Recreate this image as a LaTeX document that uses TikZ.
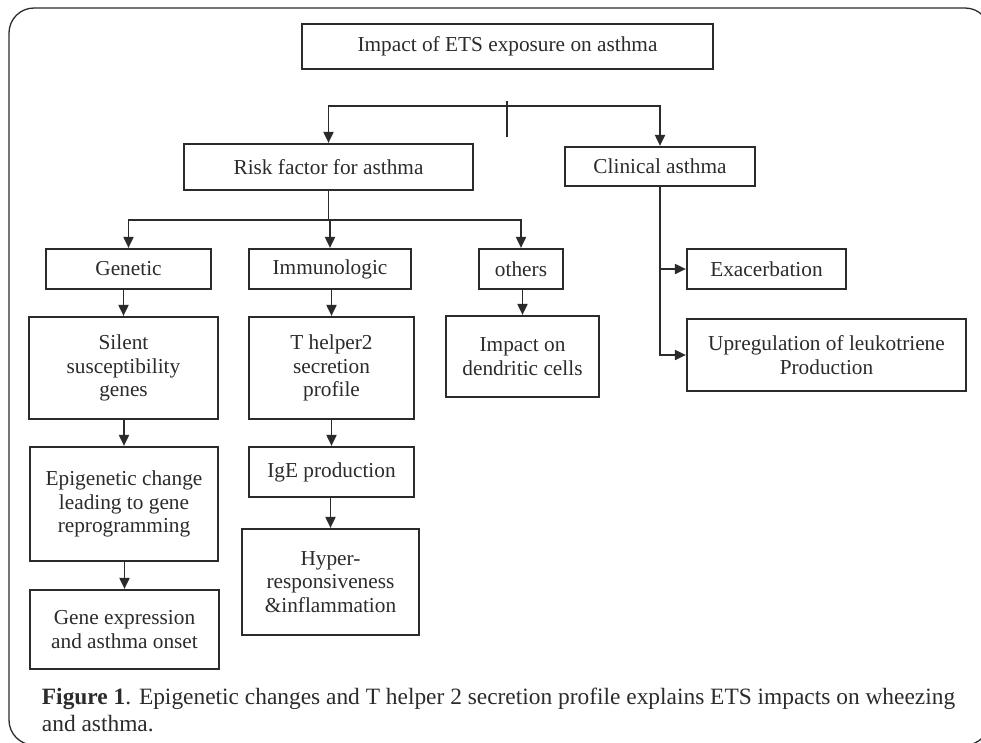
\documentclass[tikz,border=0pt]{standalone}
\usepackage{fontspec}
\setmainfont{Liberation Serif}
\usepackage{tikz}
\usetikzlibrary{arrows.meta}

\definecolor{inkgray}{HTML}{2B2B2B}

\begin{document}
\begin{tikzpicture}[x=1pt, y=-1pt, >={Triangle[length=11pt,width=10pt]}, line width=1.9pt, color=inkgray,
  font=\fontsize{21.3}{23.5}\selectfont, align=center,
  box/.style 2 args={draw, line width=2.2pt, inner sep=0pt, minimum width=#1, minimum height=#2},
  frame/.style={line width=1.3pt, rounded corners=25pt}]
  \useasboundingbox (0,0) rectangle (981,742);
  \clip (0,0) rectangle (981,742);
  \draw[frame] (9,8) rectangle (990,745);

  \node[box={411}{45}]  (impact) at (507.5,46.5) {Impact of ETS exposure on asthma};
  \node[box={289}{46}]  (risk)   at (328.5,167)  {Risk factor for asthma};
  \node[box={190}{39}]  (clin)   at (660,166.5)  {Clinical asthma};

  \node[box={165}{40}]  (gen)    at (128.5,269)  {Genetic};
  \node[box={162}{40}]  (immu)   at (330,269)    {Immunologic};
  \node[box={84}{40}]   (oth)    at (521,269)    {others};
  \node[box={159}{40}]  (exa)    at (766.5,269)  {Exacerbation};

  \node[box={189}{102}] (sil)    at (123.5,368)  {Silent\\susceptibility\\genes};
  \node[box={165}{102}] (thel)   at (331.5,368)  {T helper2\\secretion\\profile};
  \node[box={153}{81}]  (dend)   at (522.5,356.5) {Impact on\\dendritic cells};
  \node[box={279}{72}]  (upr)    at (826.5,355)  {Upregulation of leukotriene\\Production};

  \node[box={188}{114}] (epi)    at (124,504)    {Epigenetic change\\leading to gene\\reprogramming};
  \node[box={165}{50}]  (ige)    at (331.5,472)  {IgE production};
  \node[box={189}{79}]  (gene)   at (124.5,629.5) {Gene expression\\and asthma onset};
  \node[box={177}{106}] (hyp)    at (330.5,582)  {Hyper-\\responsiveness\\\&inflammation};

  \node[anchor=north west, inner sep=0pt, align=left, font=\fontsize{23.4}{27}\selectfont] (cap) at (41,687)
    {\textbf{Figure 1}. Epigenetic changes and T helper 2 secretion profile explains ETS impacts on wheezing\\and asthma.};

  % top split
  \coordinate (tickt) at (507,101);
  \coordinate (tickb) at (507,137);
  \coordinate (split) at (507,106);
  \draw (tickt) -- (tickb);
  \draw[->] (split) -| (risk);
  \draw[->] (split) -| (clin);

  % risk factors
  \coordinate (rsplit) at (risk.south |- 0,220);
  \draw (risk.south) -- (rsplit);
  \draw[->] (rsplit) -| (gen);
  \draw[->] (rsplit) -| (immu);
  \draw[->] (rsplit) -| (oth);

  \draw[->] (gen.south -| sil.north) -- (sil.north);
  \draw[->] (sil.south -| epi.north) -- (epi.north);
  \draw[->] (epi.south -| gene.north) -- (gene.north);
  \draw[->] (immu.south -| thel.north) -- (thel.north);
  \draw[->] (thel.south -| ige.north) -- (ige.north);
  \draw[->] (ige.south -| hyp.north) -- (hyp.north);
  \draw[->] (oth.south -| dend.north) -- (dend.north);

  % clinical
  \draw[->] (clin.south) |- (exa);
  \draw[->] (clin.south) |- (upr);
\end{tikzpicture}
\end{document}
